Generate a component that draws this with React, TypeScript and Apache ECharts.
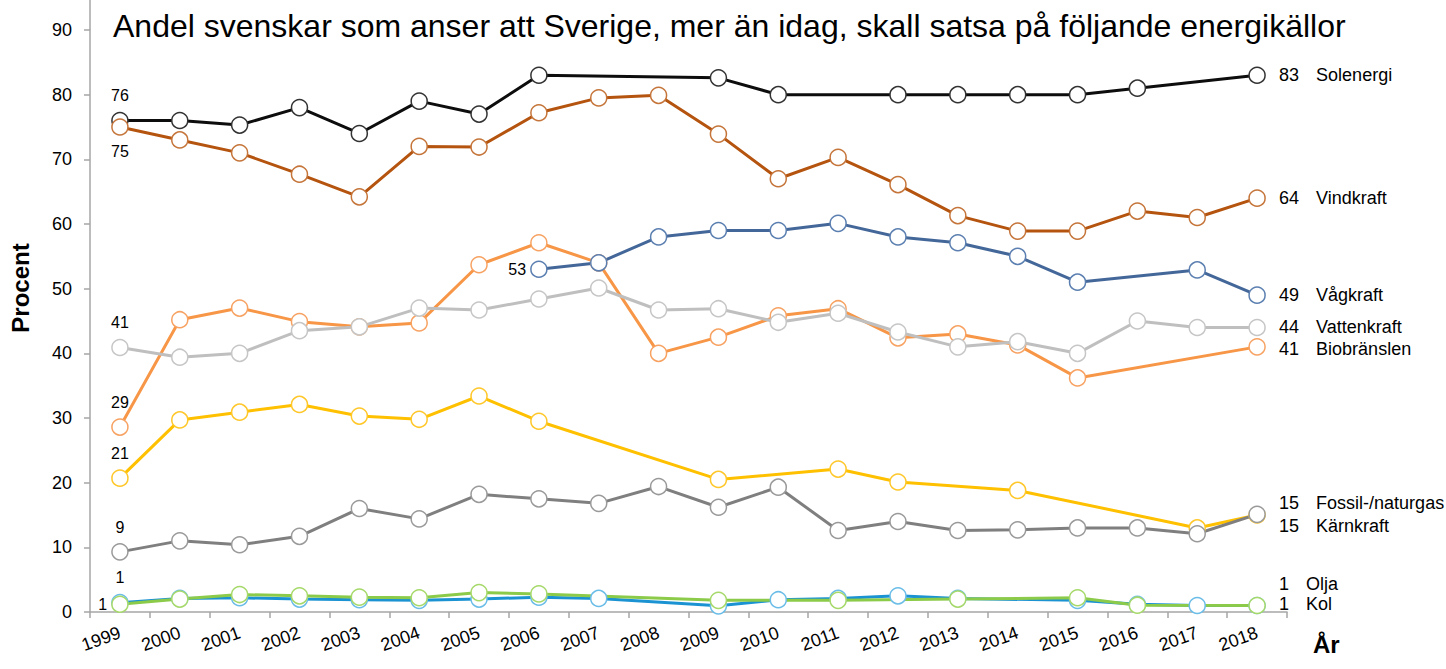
import React, { useEffect, useRef } from "react";
import * as echarts from "echarts";

const years = ["1999","2000","2001","2002","2003","2004","2005","2006","2007","2008","2009","2010","2011","2012","2013","2014","2015","2016","2017","2018"];

const solenergi = [76, 76, 75.3, 78, 74, 79, 77, 83, null, null, 82.6, 80, null, 80, 80, 80, 80, 81, null, 83];
const vindkraft = [75, 73, 71, 67.7, 64.2, 72, 71.9, 77.2, 79.5, 79.9, 73.9, 67, 70.3, 66.1, 61.3, 58.9, 58.9, 62, 61, 64];
const vagkraft = [null, null, null, null, null, null, null, 53, 54, 58, 59, 59, 60.1, 58, 57.1, 55, 51, null, 52.9, 49];
const vattenkraft = [40.9, 39.4, 40, 43.5, 44.1, 47, 46.7, 48.4, 50.1, 46.7, 46.9, 44.8, 46.2, 43.3, 41, 41.8, 40, 45, 44, 44];
const biobranslen = [28.6, 45.2, 47, 44.9, 44.1, 44.7, 53.7, 57.1, 54, 40, 42.5, 45.8, 46.9, 42.4, 43, 41.3, 36.2, null, null, 41];
const fossil = [20.7, 29.7, 30.9, 32.1, 30.3, 29.8, 33.4, 29.5, null, null, 20.5, null, 22.1, 20.1, null, 18.8, null, null, 13, 15];
const karnkraft = [9.3, 11, 10.4, 11.7, 16, 14.4, 18.2, 17.5, 16.8, 19.4, 16.2, 19.3, 12.6, 14, 12.6, 12.7, 13, 13, 12.1, 15.1];
const olja = [1.45, 2.1, 2.2, 2.0, 1.9, 1.8, 2.0, 2.3, 2.1, null, 0.95, 1.9, 2.1, 2.5, 2.1, null, 1.8, 1.2, 1.0, 1.0];
const kol = [1.2, 2.0, 2.7, 2.5, 2.3, 2.2, 3.0, 2.8, null, null, 1.8, null, 1.8, null, 2.0, null, 2.2, 1.05, null, 1.0];

const TITLE = "Andel svenskar som anser att Sverige, mer än idag, skall satsa på följande energikällor";
const FONT = "Liberation Sans, Arial, sans-serif";

type Cfg = {
  name: string;
  data: (number | null)[];
  line: string;
  border: string;
  startPos: string | null;
  endDy: number;
};

const configs: Cfg[] = [
  { name: "Solenergi", data: solenergi, line: "#0d0d0d", border: "#333333", startPos: "top", endDy: 0 },
  { name: "Vindkraft", data: vindkraft, line: "#b5540f", border: "#c5753a", startPos: "bottom", endDy: 0 },
  { name: "Biobränslen", data: biobranslen, line: "#f79646", border: "#f7a262", startPos: "top", endDy: 2 },
  { name: "Vågkraft", data: vagkraft, line: "#44679a", border: "#5b7fb0", startPos: "left", endDy: 0 },
  { name: "Vattenkraft", data: vattenkraft, line: "#bfbfbf", border: "#c6c6c6", startPos: "top", endDy: 0 },
  { name: "Fossil-/naturgas", data: fossil, line: "#ffc000", border: "#ffc72a", startPos: "top", endDy: -12 },
  { name: "Kärnkraft", data: karnkraft, line: "#7f7f7f", border: "#9a9a9a", startPos: "top", endDy: 12 },
  { name: "Olja", data: olja, line: "#1b93d2", border: "#6bbde8", startPos: "top", endDy: -22 },
  { name: "Kol", data: kol, line: "#8ccb4a", border: "#a6d96a", startPos: "left", endDy: -2 },
];

export default function App() {
  const ref = useRef<HTMLDivElement>(null);
  useEffect(() => {
    if (!ref.current) return;
    const chart = echarts.init(ref.current, null, { renderer: "svg" });

    const series = configs.map((c) => {
      const first = c.data.findIndex((v) => v !== null);
      const data = c.data.map((v, i) => {
        if (i === first && c.startPos) {
          return {
            value: v,
            label: {
              show: true,
              position: c.startPos,
              distance: c.startPos === "left" ? 4 : 8,
              formatter: (p: any) => String(Math.round(p.value)),
              color: "#000",
              fontSize: 16,
              fontFamily: FONT,
            },
          };
        }
        return v;
      });
      return {
        name: c.name,
        type: "line",
        data,
        connectNulls: true,
        symbol: "circle",
        symbolSize: 16,
        showAllSymbol: true,
        lineStyle: { color: c.line, width: 3 },
        itemStyle: { color: "#ffffff", borderColor: c.border, borderWidth: 1.5 },
        emphasis: { disabled: true },
        endLabel: {
          show: true,
          distance: 22,
          offset: [0, c.endDy],
          formatter: (p: any) => `{v|${Math.round(p.value)}}{n|${p.seriesName}}`,
          rich: {
            v: { fontSize: 18, fontFamily: FONT, color: "#000" },
            n: { fontSize: 18, fontFamily: FONT, color: "#000", padding: [0, 0, 0, 17] },
          },
        },
      };
    });

    chart.setOption({
      animation: false,
      textStyle: { fontFamily: FONT },
      title: {
        text: TITLE,
        left: 108,
        top: 5,
        textStyle: { fontSize: 32, fontWeight: "normal", color: "#000", fontFamily: FONT },
      },
      grid: { left: 90, right: 159, top: 30, bottom: 57, containLabel: false },
      xAxis: {
        type: "category",
        data: years,
        boundaryGap: true,
        axisLine: { show: true, lineStyle: { color: "#a6a6a6", width: 1.5 } },
        axisTick: { show: true, length: 6, lineStyle: { color: "#a6a6a6", width: 1.5 } },
        axisLabel: { rotate: 20, margin: 20, fontSize: 18, color: "#000", fontFamily: FONT, interval: 0 },
        splitLine: { show: false },
        name: "År",
        nameLocation: "end",
        nameGap: 26,
        nameTextStyle: {
          fontSize: 24,
          fontWeight: "bold",
          color: "#000",
          fontFamily: FONT,
          align: "left",
          verticalAlign: "top",
          padding: [20, 0, 0, 0],
        },
      },
      yAxis: {
        type: "value",
        min: 0,
        max: 90,
        interval: 10,
        axisLine: { show: true, lineStyle: { color: "#a6a6a6", width: 1.5 } },
        axisTick: { show: true, length: 6, lineStyle: { color: "#a6a6a6", width: 1.5 } },
        axisLabel: { fontSize: 18, color: "#000", fontFamily: FONT, margin: 18 },
        splitLine: { show: false },
      },
      graphic: [
        {
          type: "line",
          shape: { x1: 90, y1: 0, x2: 90, y2: 30 },
          style: { stroke: "#a6a6a6", lineWidth: 1.5 },
          silent: true,
        },
        {
          type: "text",
          x: 20,
          y: 288,
          rotation: Math.PI / 2,
          style: {
            text: "Procent",
            align: "center",
            verticalAlign: "middle",
            font: `bold 24px ${FONT}`,
            fill: "#000",
          },
          silent: true,
        },
      ],
      series,
    });

    return () => chart.dispose();
  }, []);

  return (
    <div
      ref={ref}
      style={{ position: "fixed", left: 0, top: 0, width: 1446, height: 669, background: "#fff" }}
    />
  );
}
